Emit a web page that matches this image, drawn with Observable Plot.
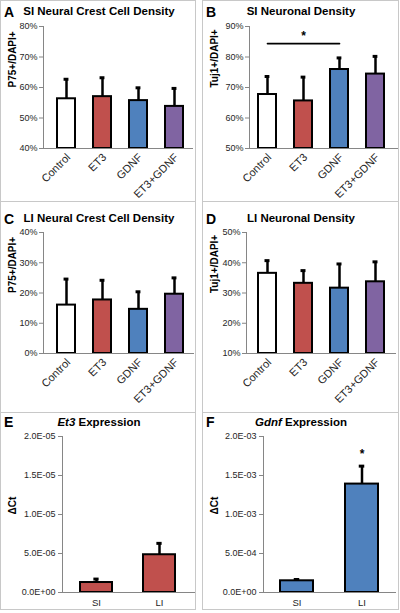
<!DOCTYPE html>
<html>
<head>
<meta charset="utf-8">
<script src="https://cdn.jsdelivr.net/npm/d3@7"></script>
<script src="https://cdn.jsdelivr.net/npm/@observablehq/plot@0.6"></script>
<style>
  html, body { margin: 0; padding: 0; background: #fff; }
  #root { position: relative; width: 400px; height: 613px; background: #fff; font-family: "Liberation Sans", Arial, sans-serif; overflow: hidden; }
  .panel { position: absolute; }
  .panel svg { position: absolute; left: 0; top: 0; }
  .border { position: absolute; left: 0; top: 0; right: 0; bottom: 0; border: 1px solid #c8c8c8; box-sizing: border-box; pointer-events: none; }
  .letter { position: absolute; left: 4px; font: bold 14px/1 "Liberation Sans", Arial, sans-serif; color: #000; }
  .title { position: absolute; left: 0; width: 198px; text-align: center; font: bold 11.5px/1 "Liberation Sans", Arial, sans-serif; color: #000; white-space: nowrap; }
</style>
</head>
<body>
<div id="root"></div>
<script>
// ---------- data ----------
const groups = ["Control", "ET3", "GDNF", "ET3+GDNF"];
const groupColors = ["#ffffff", "#c0504d", "#4f81bd", "#8064a2"];

const siCrestMean = [56.3, 57.0, 55.7, 53.8];
const siCrestSd = [6.4, 6.2, 4.2, 5.9];
const siNeuronMean = [67.7, 65.6, 75.9, 74.4];
const siNeuronSd = [5.9, 7.8, 3.8, 5.8];
const liCrestMean = [16.0, 17.7, 14.6, 19.6];
const liCrestSd = [8.6, 6.5, 5.8, 5.4];
const liNeuronMean = [36.5, 33.2, 31.6, 33.7];
const liNeuronSd = [4.2, 4.2, 8.0, 6.6];

const regions = ["SI", "LI"];
const et3Mean = [1.28e-6, 4.84e-6];
const et3Sd = [0.44e-6, 1.46e-6];
const gdnfMean = [1.50e-4, 1.39e-3];
const gdnfSd = [0.17e-4, 0.23e-3];

const ticksA = [40, 50, 60, 70, 80];
const ticksB = [50, 60, 70, 80, 90];
const ticksC = [0, 10, 20, 30, 40];
const ticksD = [10, 20, 30, 40, 50];
const ticksE = [0, 5e-6, 1e-5, 1.5e-5, 2e-5];
const labelsE = ["0.0E+00", "5.0E-06", "1.0E-05", "1.5E-05", "2.0E-05"];
const ticksF = [0, 5e-4, 1e-3, 1.5e-3, 2e-3];
const labelsF = ["0.0E+00", "5.0E-04", "1.0E-03", "1.5E-03", "2.0E-03"];

// significance annotations (data space)
const sigB = {from: "Control", to: "GDNF", line: 84.4, star: 88.2, at: "ET3"};
const sigF = {star: 1.82e-3, at: "LI"};

// ---------- helpers ----------
const FONT = '"Liberation Sans", Arial, sans-serif';
const AXIS = "#868686";
const TXT = "#262626";
const pct = d => d + "%";

function rows(cats, means, sds, colors) {
  return cats.map((c, i) => ({cat: c, mean: means[i], sd: sds[i], color: colors[i]}));
}

function makePanel(cfg) {
  const root = document.getElementById("root");
  const div = document.createElement("div");
  div.className = "panel";
  Object.assign(div.style, {left: cfg.left + "px", top: cfg.top + "px", width: cfg.w + "px", height: cfg.h + "px"});

  const data = rows(cfg.cats, cfg.means, cfg.sds, cfg.colors);
  const yMin = cfg.yTicks[0];
  const n = cfg.cats.length;
  const step = (cfg.band[1] - cfg.band[0]) / n;
  const bw = step * 0.5;
  const capInset = Math.max(0, (bw - 5) / 2);
  const labelMap = new Map(cfg.yTicks.map((t, i) => [t, cfg.yLabels[i]]));

  const marks = [
    Plot.barY(data, {x: "cat", y1: () => yMin, y2: "mean", fill: "color", stroke: "#000", strokeWidth: 2}),
    Plot.ruleX(data, {x: "cat", y1: "mean", y2: d => d.mean + d.sd, stroke: "#000", strokeWidth: 2.5}),
    Plot.tickY(data, {x: "cat", y: d => d.mean + d.sd, stroke: "#000", strokeWidth: 3, insetLeft: capInset, insetRight: capInset}),
    Plot.frame({anchor: "left", stroke: AXIS}),
    Plot.frame({anchor: "bottom", stroke: AXIS}),
    Plot.axisY({ticks: cfg.yTicks, tickFormat: d => labelMap.get(d), tickSize: 4, tickPadding: cfg.rotate ? 2 : 3, fontSize: 9, stroke: AXIS, fill: TXT, label: null}),
    cfg.rotate
      ? Plot.axisX({tickRotate: -45, tickSize: 0, tickPadding: 7, dx: 2, fontSize: 11, fill: TXT, label: null})
      : Plot.axisX({tickSize: 0, tickPadding: 7, fontSize: 9.5, fill: TXT, label: null}),
    Plot.text([cfg.yTitle], {text: d => d, frameAnchor: "left", rotate: -90, dx: -(cfg.ml - 12), fontWeight: "bold", fontSize: 10, fill: "#000"})
  ];
  if (cfg.extra) marks.push(...cfg.extra);

  const svg = Plot.plot({
    width: cfg.w, height: cfg.h,
    marginLeft: cfg.ml, marginRight: cfg.mr, marginTop: cfg.mt, marginBottom: cfg.mb,
    style: {fontFamily: FONT, background: "transparent", overflow: "visible"},
    x: {type: "band", domain: cfg.cats, range: cfg.band, paddingInner: 0.5, paddingOuter: 0.25},
    y: {domain: [cfg.yTicks[0], cfg.yTicks[cfg.yTicks.length - 1]]},
    color: {type: "identity"},
    marks
  });
  div.appendChild(svg);

  const letter = document.createElement("div");
  letter.className = "letter";
  letter.style.top = cfg.letterTop + "px";
  letter.textContent = cfg.letter;
  div.appendChild(letter);

  const title = document.createElement("div");
  title.className = "title";
  title.style.top = cfg.titleTop + "px";
  title.innerHTML = cfg.titleHtml;
  div.appendChild(title);

  const border = document.createElement("div");
  border.className = "border";
  div.appendChild(border);

  root.appendChild(div);
}

// ---------- panels ----------
makePanel({
  letter: "A", titleHtml: "SI Neural Crest Cell Density", letterTop: 5, titleTop: 6.3,
  left: 0, top: 0, w: 196, h: 202, ml: 43, mr: 4, mt: 26, mb: 54, band: [47, 192],
  cats: groups, means: siCrestMean, sds: siCrestSd, colors: groupColors,
  yTicks: ticksA, yLabels: ticksA.map(pct), yTitle: "P75+/DAPI+", rotate: true
});

makePanel({
  letter: "B", titleHtml: "SI Neuronal Density", letterTop: 5, titleTop: 6.3,
  left: 202, top: 0, w: 197, h: 202, ml: 47, mr: 2, mt: 26, mb: 54, band: [46, 192],
  cats: groups, means: siNeuronMean, sds: siNeuronSd, colors: groupColors,
  yTicks: ticksB, yLabels: ticksB.map(pct), yTitle: "Tuj1+/DAPI+", rotate: true,
  extra: [
    Plot.line([sigB.from, sigB.to], {x: d => d, y: () => sigB.line, stroke: "#000", strokeWidth: 1.7}),
    Plot.text(["*"], {x: () => sigB.at, y: () => sigB.star, text: d => d, fontSize: 12, fontWeight: "bold", dy: 4, fill: "#000"})
  ]
});

makePanel({
  letter: "C", titleHtml: "LI Neural Crest Cell Density", letterTop: 10.6, titleTop: 12.3,
  left: 0, top: 201, w: 196, h: 212, ml: 43, mr: 3, mt: 31, mb: 60, band: [47, 192],
  cats: groups, means: liCrestMean, sds: liCrestSd, colors: groupColors,
  yTicks: ticksC, yLabels: ticksC.map(pct), yTitle: "P75+/DAPI+", rotate: true
});

makePanel({
  letter: "D", titleHtml: "LI Neuronal Density", letterTop: 10.6, titleTop: 12.3,
  left: 202, top: 201, w: 197, h: 212, ml: 44, mr: 4, mt: 31, mb: 60, band: [47, 191],
  cats: groups, means: liNeuronMean, sds: liNeuronSd, colors: groupColors,
  yTicks: ticksD, yLabels: ticksD.map(pct), yTitle: "Tuj1+/DAPI+", rotate: true
});

makePanel({
  letter: "E", titleHtml: "<i>Et3</i> Expression", letterTop: 3, titleTop: 4.8,
  left: 0, top: 412, w: 196, h: 198, ml: 62, mr: 2, mt: 24, mb: 18, band: [64, 191],
  cats: regions, means: et3Mean, sds: et3Sd, colors: [groupColors[1], groupColors[1]],
  yTicks: ticksE, yLabels: labelsE, yTitle: "ΔCt", rotate: false
});

makePanel({
  letter: "F", titleHtml: "<i>Gdnf</i> Expression", letterTop: 2.6, titleTop: 4.8,
  left: 202, top: 412, w: 197, h: 198, ml: 61, mr: 4, mt: 24, mb: 18, band: [62, 192],
  cats: regions, means: gdnfMean, sds: gdnfSd, colors: [groupColors[2], groupColors[2]],
  yTicks: ticksF, yLabels: labelsF, yTitle: "ΔCt", rotate: false,
  extra: [
    Plot.text(["*"], {x: () => sigF.at, y: () => sigF.star, text: d => d, fontSize: 12, fontWeight: "bold", dy: 4, fill: "#000"})
  ]
});
</script>
</body>
</html>
